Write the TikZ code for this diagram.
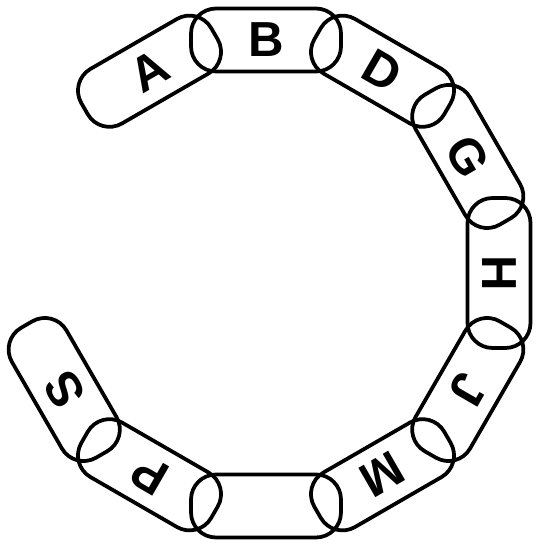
\documentclass[tikz,border=0pt]{standalone}
\usepackage{fontspec}
\setsansfont{Liberation Sans}
\usetikzlibrary{positioning,calc}
\tikzset{link/.style={draw, line width=0.075cm, rounded corners=0.5cm, minimum width=3.0cm, minimum height=1.26cm, inner sep=0pt, font=\sffamily\bfseries\fontsize{28}{28}\selectfont}}

\begin{document}
\begin{tikzpicture}[x=0.02cm,y=0.02cm]
  \useasboundingbox (0,0) rectangle (536,545);
  \coordinate (c) at (266,272);
  % ten links, 30 degrees apart, gap on the left
  \foreach \a/\t [count=\i] in {120/A,90/B,60/D,30/G,0/H,-30/J,-60/M,-90/,-120/P,-150/S}{
    \node[link, rotate=\a-90, name=link\i] at ($(c)+(\a:233)$) {\t};
  }
\end{tikzpicture}
\end{document}
